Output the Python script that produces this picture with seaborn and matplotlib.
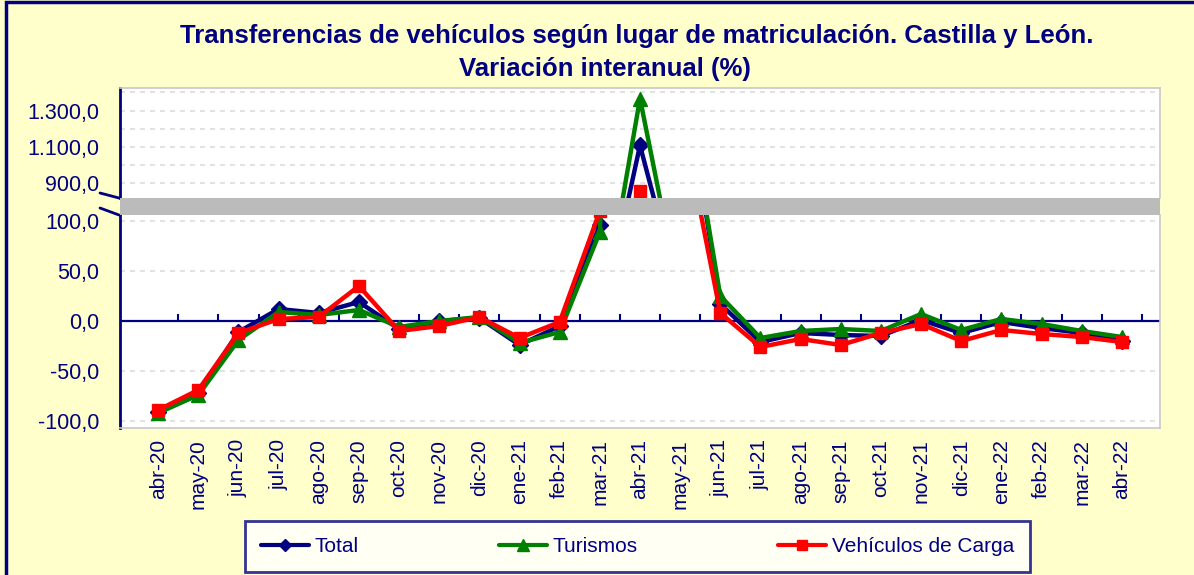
import matplotlib
import numpy as np
import pandas as pd
import seaborn as sns
from matplotlib import pyplot as plt
from matplotlib.lines import Line2D
from matplotlib.patches import Rectangle
from matplotlib.ticker import FuncFormatter, FixedLocator

matplotlib.use("Agg")

months = [
    "abr-20", "may-20", "jun-20", "jul-20", "ago-20", "sep-20", "oct-20", "nov-20",
    "dic-20", "ene-21", "feb-21", "mar-21", "abr-21", "may-21", "jun-21", "jul-21",
    "ago-21", "sep-21", "oct-21", "nov-21", "dic-21", "ene-22", "feb-22", "mar-22", "abr-22",
]
total = [-91, -72, -11, 12, 8, 19, -8, 0, 3, -24, -5, 96, 1108, 270, 17,
         -21, -12, -14, -15, 1, -12, -1, -7, -12, -20]
turismos = [-92, -74, -19, 9, 6, 11, -6, 0, 4, -22, -11, 89, 1366, 265, 25,
            -17, -10, -8, -10, 7, -9, 2, -3, -10, -16]
carga = [-89, -69, -12, 2, 4, 35, -10, -5, 4, -17, -1, 110, 856, 212, 8,
         -26, -18, -24, -12, -3, -20, -9, -13, -16, -21]

NAVY = "#000080"
GREEN = "#008000"
RED = "#FF0000"
BG = "#FFFFCC"

series = [
    ("Total", total, NAVY, "D", 8),
    ("Turismos", turismos, GREEN, "^", 10),
    ("Vehículos de Carga", carga, RED, "s", 9),
]


def es_format(v, pos=None):
    s = f"{abs(v):,.1f}".replace(",", "X").replace(".", ",").replace("X", ".")
    return ("-" if v < 0 else "") + s


def style_axes(ax):
    ax.set_facecolor("white")
    for side in ["top", "right", "bottom"]:
        ax.spines[side].set_color("#C8C8C8")
        ax.spines[side].set_linewidth(1.2)
    ax.spines["left"].set_color(NAVY)
    ax.spines["left"].set_linewidth(2)
    ax.tick_params(axis="y", which="both", direction="out", length=9, width=2, pad=6,
                   color=NAVY, labelcolor=NAVY, labelsize=15.5)
    ax.yaxis.grid(True, which="both", color="#DDDDDD", linestyle=(0, (3, 3)), linewidth=1.2)
    ax.xaxis.grid(False)
    ax.set_axisbelow(True)
    ax.set_xlim(-0.95, len(months) - 0.05)


def main():
    sns.set_style("white")
    plt.rcParams["font.family"] = ["Liberation Sans", "DejaVu Sans"]

    df = pd.DataFrame({"mes": months, "x": np.arange(len(months)),
                       "Total": total, "Turismos": turismos, "Vehículos de Carga": carga})

    fig = plt.figure(figsize=(11.94, 5.75), dpi=100, facecolor=BG)
    W, H = 1194, 575
    left, right = 120 / W, 1160 / W
    ax_hi = fig.add_axes([left, 1 - 198 / H, right - left, (198 - 88) / H])
    ax_lo = fig.add_axes([left, 1 - 428 / H, right - left, (428 - 215) / H])

    for ax in (ax_hi, ax_lo):
        style_axes(ax)
        for name, vals, color, marker, ms in series:
            sns.lineplot(data=df, x="x", y=name, ax=ax, color=color, linewidth=3.2,
                         marker=marker, markersize=ms, markeredgecolor=color,
                         markeredgewidth=1, clip_on=True, legend=False, zorder=3)
        ax.set_xlabel("")
        ax.set_ylabel("")

    ax_hi.set_ylim(819, 1424)
    ax_hi.yaxis.set_major_locator(FixedLocator([900, 1100, 1300]))
    ax_hi.yaxis.set_minor_locator(FixedLocator([1000, 1200, 1400]))
    ax_hi.yaxis.set_major_formatter(FuncFormatter(es_format))
    ax_hi.set_xticks([])
    ax_hi.spines["bottom"].set_visible(False)

    ax_lo.set_ylim(-107, 106)
    ax_lo.yaxis.set_major_locator(FixedLocator([-100, -50, 0, 50, 100]))
    ax_lo.yaxis.set_major_formatter(FuncFormatter(es_format))
    ax_lo.spines["top"].set_visible(False)
    ax_lo.set_xticks(np.arange(len(months)))
    ax_lo.set_xticklabels(months, rotation=90, color=NAVY, fontsize=15)
    ax_lo.tick_params(axis="x", length=0, pad=8)

    # zero line with category separators
    ax_lo.axhline(0, color=NAVY, linewidth=1.6, zorder=1.5)
    ylo, yhi = ax_lo.get_ylim()
    zero = ax_lo.secondary_xaxis((0 - ylo) / (yhi - ylo))
    zero.set_xticks(np.arange(len(months)) + 0.5)
    zero.tick_params(axis="x", direction="out", length=5, width=1.5, color=NAVY,
                     labeltop=False, labelbottom=False)
    for sp in zero.spines.values():
        sp.set_visible(False)

    # axis break band and marks
    fig.add_artist(Rectangle((left, 1 - 215 / H), right - left, 17 / H,
                             transform=fig.transFigure, facecolor="#BBBBBB",
                             edgecolor="none", zorder=5))
    for y0, y1 in [(193, 198), (208, 215)]:
        fig.add_artist(Line2D([100 / W, 119 / W], [1 - y0 / H, 1 - y1 / H],
                              transform=fig.transFigure, color=NAVY, linewidth=2))

    fig.text(637 / W, 1 - 36 / H, "Transferencias de vehículos según lugar de matriculación. Castilla y León.",
             ha="center", va="center", fontsize=18.5, fontweight="bold", color=NAVY)
    fig.text(605 / W, 1 - 69 / H, "Variación interanual (%)",
             ha="center", va="center", fontsize=18.5, fontweight="bold", color=NAVY)

    handles = [Line2D([], [], color=c, marker=m, markersize=ms * 0.8, linewidth=3,
                      markeredgecolor=c) for _, _, c, m, ms in series]
    leg = fig.legend(handles, [s[0] for s in series], ncol=3, mode="expand",
                     bbox_to_anchor=(245 / W, 1 - 573 / H, 785 / W, 53 / H),
                     loc="center", frameon=True, fancybox=False, fontsize=15,
                     handlelength=2.3, handletextpad=0.3, borderaxespad=0.0,
                     borderpad=0.75)
    leg.get_frame().set_edgecolor(NAVY)
    leg.get_frame().set_linewidth(2)
    for t in leg.get_texts():
        t.set_color(NAVY)

    fig.add_artist(Rectangle((6 / W, -0.01), 1.1, 1 - 2 / H + 0.01, transform=fig.transFigure,
                             fill=False, edgecolor=NAVY, linewidth=2.5))

    fig.savefig("out.png", dpi=100, facecolor=BG)


if __name__ == "__main__":
    main()
